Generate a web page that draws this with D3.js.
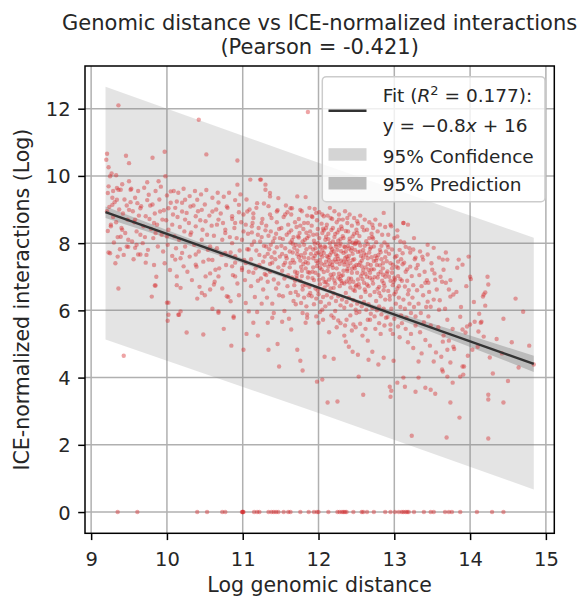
<!DOCTYPE html>
<html>
<head>
<meta charset="utf-8">
<script src="https://cdn.jsdelivr.net/npm/d3@7"></script>
<style>
  body { margin: 0; background: #fff; }
  svg text { font-family: "DejaVu Sans", sans-serif; fill: #262626; }
</style>
</head>
<body>
<div id="chart"></div>
<script>
// ---- data ----
const xTicks = [9, 10, 11, 12, 13, 14, 15];
const yTicks = [0, 2, 4, 6, 8, 10, 12];

// fit line end points
const fitX = [9.19, 14.84];
const fitY = [8.92, 4.41];

// 95% bands (wide = prediction-like, narrow = confidence-like)
const bandX = [9.19, 12.0, 14.84];
const bandLow = [5.13, 2.95, 0.67];
const bandHigh = [12.65, 10.39, 8.16];

const confX = [9.19, 10.0, 11.0, 12.0, 12.5, 13.0, 14.0, 14.84];
const confLow = [8.75, 8.15, 7.40, 6.62, 6.22, 5.79, 4.91, 4.17];
const confHigh = [9.09, 8.39, 7.54, 6.72, 6.33, 5.97, 5.25, 4.65];

// points with zero interactions
const zeroX = [9.35,9.61,10.40,10.53,10.73,10.77,11.0,11.0,11.01,10.99,11.15,11.19,11.22,11.34,11.38,11.41,11.44,11.47,11.54,11.6,11.63,11.76,11.87,11.94,12.0,11.98,12.13,12.25,12.28,12.31,12.33,12.35,12.37,12.46,12.57,12.59,12.64,12.73,12.88,12.95,13.01,13.06,13.1,13.12,13.15,13.17,13.19,13.26,13.39,13.48,13.52,13.67,13.72,13.76,13.87,14.09,14.29,14.44];

// scatter cloud [log distance, log interactions]
const points = [
[9.21,10.66],[9.2,10.48],[9.23,10.26],[9.27,10.07],[9.33,10.02],[9.46,10.6],[9.5,10.38],[9.36,12.1],[9.25,9.99],[9.23,9.69],[9.22,9.49],[9.34,9.64],[9.39,9.59],[9.5,9.84],[9.28,9.35],[9.31,9.22],[9.44,9.3],[9.47,9.12],[9.24,9.08],[9.37,9.0],[9.42,8.88],[9.29,8.78],[9.21,8.95],[9.48,8.7],[9.33,8.62],[9.26,8.5],[9.4,8.45],[9.45,8.3],[9.35,8.18],[9.22,8.36],[9.3,8.02],[9.49,8.1],[9.38,7.82],[9.43,7.65],[9.25,7.7],[9.36,6.65],[9.43,4.65],[9.32,7.4],[9.47,7.9],[9.41,9.75],[9.29,9.55],
[9.26,8.55],[9.39,8.19],[9.23,7.72],[9.35,7.6],[9.49,7.89],[9.58,7.86],[9.65,7.66],[9.72,7.42],[9.86,7.0],[9.84,6.74],[9.8,6.41],[10.0,6.23],[10.15,5.87],[9.62,7.66],
[9.81,10.54],[9.97,10.72],[10.42,11.67],[10.52,10.64],[10.93,10.46],[11.86,11.9],[9.85,6.74],[10.02,6.23],[10.01,5.69],[10.16,5.87],[10.26,5.34],[10.48,5.28],[10.68,5.93],[10.88,5.78],
[10.02,5.87],[10.18,6.67],[10.13,7.01],[10.22,7.31],[10.38,7.36],[10.51,7.01],[10.57,6.62],[10.62,6.77],[10.46,6.52],[10.18,5.97],[10.68,7.01],[10.79,6.42],[10.84,6.27],[10.9,7.01],[10.99,7.26],[11.08,5.97],[11.04,6.22],[10.88,5.82],[10.68,5.97],
[10.93,9.74],[9.36,9.59],[9.52,9.59],[9.74,9.81],[9.89,9.84],[9.98,9.99],[10.05,9.54],[10.13,9.24],[10.24,9.29],[10.4,9.29],[10.68,9.21],[10.95,9.14],[9.61,9.19],[9.76,9.44],[9.65,9.04],[9.5,8.99],[9.91,8.94],[10.02,9.04],[10.2,8.94],[10.31,9.09],[10.46,8.99],[10.6,8.94],[10.79,9.09],[10.86,8.8],[11.06,8.94],
[9.58,8.7],[9.72,8.8],[9.83,8.6],[9.94,8.7],[10.07,8.55],[10.24,8.7],[10.38,8.5],[10.51,8.65],[10.66,8.55],[10.77,8.4],[10.9,8.6],[11.01,8.35],[11.12,8.5],[9.85,8.3],[10.0,8.2],[10.16,8.1],[10.31,8.25],[10.46,8.1],[10.57,7.9],[10.73,8.1],[10.86,8.0],[10.99,8.1],[11.08,7.81],[10.77,7.71],[10.9,7.61],[10.55,7.51],[10.38,7.66],[10.2,7.71],[11.04,7.41],[10.86,7.31],[10.64,7.21],[10.11,7.51],[9.41,8.4],[9.28,9.14],[9.34,9.29],
[9.52,9.22],[9.55,8.95],[9.57,8.62],[9.6,8.35],[9.63,8.82],[9.66,9.1],[9.69,8.5],[9.71,8.18],[9.74,9.28],[9.77,8.72],[9.79,8.42],[9.54,8.05],[9.6,7.95],[9.68,8.0],[9.75,7.8],[9.53,9.62],[9.62,9.55],[9.7,9.65],[9.78,9.12],[9.58,9.35],[9.65,8.25],[9.56,7.52],[9.73,7.65],
[9.81,9.15],[9.84,8.88],[9.87,8.55],[9.9,9.3],[9.93,8.25],[9.96,8.98],[9.99,8.68],[10.02,8.4],[10.05,9.2],[10.08,8.85],[9.82,8.15],[9.88,7.9],[9.95,7.75],[10.01,7.95],[10.07,7.62],[9.85,9.55],[9.92,9.68],[10.0,9.42],[10.09,9.55],[9.97,7.4],[10.04,7.2],[9.83,7.35],[10.1,8.2],
[10.11,9.05],[10.14,8.78],[10.17,8.48],[10.2,9.2],[10.23,8.35],[10.26,8.9],[10.29,8.6],[10.32,8.32],[10.35,9.12],[10.38,8.8],[10.12,7.85],[10.18,7.55],[10.24,7.9],[10.3,7.6],[10.36,7.95],[10.15,9.5],[10.22,9.62],[10.3,9.4],[10.37,9.55],[10.27,7.15],[10.33,6.9],[10.13,6.75],[10.39,7.3],
[10.41,8.95],[10.44,8.68],[10.47,8.4],[10.5,9.15],[10.53,8.25],[10.56,8.82],[10.59,8.52],[10.62,8.22],[10.65,9.0],[10.68,8.7],[10.42,7.75],[10.48,7.45],[10.54,7.8],[10.6,7.5],[10.66,7.85],[10.45,9.45],[10.52,9.58],[10.6,9.35],[10.67,9.5],[10.57,7.1],[10.63,6.85],[10.43,6.7],[10.69,7.25],[10.5,6.45],
[10.71,8.88],[10.74,8.6],[10.77,8.3],[10.8,9.05],[10.83,8.18],[10.86,8.72],[10.89,8.45],[10.92,8.15],[10.95,8.92],[10.98,8.62],[11.01,8.85],[11.04,8.55],[11.07,8.28],[11.09,9.0],[10.72,7.65],[10.78,7.35],[10.84,7.72],[10.9,7.42],[10.96,7.78],[11.02,7.5],[11.06,7.82],[10.75,9.38],[10.82,9.5],[10.9,9.28],[10.97,9.45],[11.05,9.3],[10.87,7.05],[10.93,6.8],[10.73,6.65],[10.99,7.2],[11.03,6.9],[11.08,7.15],[10.81,6.4],
[10.6,6.05],[10.95,6.45],[11.05,5.3],[10.75,5.45],[11.2,5.25],[10.4,6.35],[10.85,4.95],
[11.1,9.89],[11.24,9.89],[11.3,9.74],[11.3,9.59],[11.36,9.39],[11.47,9.34],[11.63,9.04],[11.72,9.39],[11.83,9.37],[11.97,8.9],
[11.23,9.89],[11.36,9.49],[11.19,9.19],[11.65,9.04],[11.76,8.99],[11.91,8.8],[12.05,8.85],[12.16,8.75],[12.27,8.7],[12.38,8.75],[12.51,8.65],[12.71,8.55],[12.86,8.9],[12.95,8.55],[13.12,8.6],[13.04,8.2],[11.45,8.94],[11.56,8.85],[11.36,8.85],[11.25,8.6],[11.14,8.75],
[11.12,8.32],[11.15,8.05],[11.18,7.78],[11.11,7.52],[11.22,7.35],[11.25,8.18],[11.28,7.92],[11.14,7.12],[11.2,6.88],[11.27,6.62],[11.16,6.4],[11.24,6.95],[11.29,7.6],[11.13,8.6],[11.21,8.45],[11.26,8.72],[11.18,9.05],[11.23,8.05],[11.3,8.38],[11.17,7.25],[11.29,7.08],[11.11,6.72],[11.25,6.2],[11.19,5.95],[11.28,9.18],[11.14,8.88],[11.22,7.65],[11.27,7.45],[11.12,7.95],[11.2,8.25],
[11.31,8.52],[11.34,8.22],[11.37,7.95],[11.33,7.68],[11.39,7.42],[11.42,8.15],[11.45,7.88],[11.48,8.42],[11.36,7.15],[11.41,6.92],[11.44,6.65],[11.47,7.28],[11.32,6.38],[11.38,8.75],[11.46,8.98],[11.49,7.6],[11.35,7.82],[11.4,8.05],[11.43,7.52],[11.31,7.05],[11.47,6.8],[11.39,6.2],[11.34,9.1],[11.45,8.62],[11.42,7.72],[11.37,8.35],[11.33,6.85],[11.48,6.45],[11.41,5.92],[11.36,7.38],[11.44,8.28],[11.31,7.9],[11.49,8.15],[11.38,7.58],
[11.14,5.63],[11.33,5.63],[11.39,5.78],[11.52,5.66],[11.01,4.83],[11.34,4.83],[11.48,4.33],[11.46,5.0],[11.72,4.83],[11.76,4.5],[11.79,4.21],[11.64,5.43],[11.83,5.63],[11.85,5.78],[12.0,5.63],
[11.51,8.45],[11.53,8.12],[11.56,7.85],[11.58,7.55],[11.61,8.32],[11.63,8.02],[11.66,7.72],[11.68,7.42],[11.52,7.18],[11.55,6.95],[11.59,6.72],[11.62,7.28],[11.65,6.98],[11.69,8.62],[11.54,8.78],[11.57,9.12],[11.6,8.55],[11.64,8.85],[11.67,8.18],[11.7,7.95],[11.52,7.68],[11.56,7.42],[11.6,7.05],[11.63,6.52],[11.67,6.28],[11.53,6.42],[11.58,8.25],[11.62,7.75],[11.66,7.5],[11.69,7.15],[11.55,5.98],[11.61,5.75],[11.68,6.75],[11.51,7.92],[11.57,7.62],[11.64,8.38],[11.7,6.55],[11.59,8.92],[11.54,7.35],[11.66,7.98],
[11.71,8.48],[11.73,8.2],[11.75,7.92],[11.77,7.64],[11.8,7.38],[11.82,8.1],[11.84,7.82],[11.87,7.55],[11.89,8.35],[11.72,7.12],[11.76,6.88],[11.79,6.62],[11.83,7.25],[11.86,6.98],[11.88,6.7],[11.74,8.72],[11.78,8.95],[11.81,8.6],[11.85,8.82],[11.88,9.05],[11.72,7.78],[11.76,7.48],[11.79,8.05],[11.82,7.7],[11.86,7.4],[11.89,7.88],[11.73,6.45],[11.77,6.22],[11.81,6.38],[11.84,6.12],[11.87,6.45],[11.75,8.3],[11.8,8.42],[11.85,8.15],[11.78,7.18],[11.83,6.75],[11.71,6.95],[11.88,7.12],[11.74,7.58],[11.81,7.95],[11.86,8.6],[11.79,5.92],
[11.91,8.52],[11.93,8.25],[11.95,7.98],[11.97,7.7],[11.99,7.42],[12.01,8.15],[12.03,7.88],[12.05,7.6],[12.07,8.38],[12.09,8.1],[11.92,7.15],[11.94,6.9],[11.96,6.65],[11.98,7.32],[12.0,7.05],[12.02,6.78],[12.04,7.22],[12.06,6.95],[12.08,6.68],[12.1,7.45],[11.92,8.78],[11.95,9.02],[11.98,8.68],[12.01,8.92],[12.04,8.58],[12.07,8.8],[12.1,8.45],[11.93,7.55],[11.96,7.85],[11.99,8.0],[12.02,7.5],[12.05,7.78],[12.08,7.35],[11.91,6.42],[11.94,6.18],[11.97,6.35],[12.0,6.48],[12.03,6.25],[12.06,6.4],[12.09,6.12],[11.95,7.62],[12.0,7.72],[12.05,8.3],[11.93,7.28],[12.08,7.9],[12.02,5.95],[11.97,5.82],[12.06,5.72],[12.1,6.85],[11.99,8.42],
[11.98,3.88],[12.05,3.94],[12.08,4.62],[12.2,4.56],[12.12,3.26],[12.25,3.29],[12.36,5.07],[12.4,4.92],[12.45,4.77],[12.52,4.68],[12.53,4.03],[12.59,3.49],[12.66,4.53],[12.71,4.77],[12.79,4.39],[12.86,4.59],[12.94,3.73],[12.95,3.43],[12.96,3.61],[12.99,4.5],
[12.11,8.55],[12.13,8.28],[12.15,8.0],[12.17,7.72],[12.19,7.45],[12.21,8.18],[12.23,7.9],[12.25,7.62],[12.27,8.4],[12.29,8.12],[12.12,7.18],[12.14,6.92],[12.16,6.65],[12.18,7.35],[12.2,7.08],[12.22,6.8],[12.24,7.25],[12.26,6.98],[12.28,6.72],[12.3,7.48],[12.12,8.82],[12.15,9.05],[12.18,8.72],[12.21,8.95],[12.24,8.62],[12.27,8.85],[12.3,8.5],[12.13,7.58],[12.16,7.88],[12.19,8.05],[12.22,7.52],[12.25,7.8],[12.28,7.38],[12.11,6.45],[12.14,6.2],[12.17,6.38],[12.2,6.5],[12.23,6.28],[12.26,6.42],[12.29,6.15],[12.15,7.65],[12.2,7.75],[12.25,8.32],[12.13,7.3],[12.28,7.92],[12.22,5.98],[12.17,5.85],[12.26,5.7],[12.3,6.88],[12.19,8.45],[12.24,5.5],[12.14,5.35],[12.29,5.62],
[12.31,8.42],[12.33,8.15],[12.35,7.88],[12.37,7.6],[12.39,7.32],[12.41,8.05],[12.43,7.78],[12.45,7.5],[12.47,8.28],[12.49,8.0],[12.32,7.05],[12.34,6.8],[12.36,6.52],[12.38,7.22],[12.4,6.95],[12.42,6.68],[12.44,7.12],[12.46,6.85],[12.48,6.58],[12.5,7.35],[12.32,8.7],[12.35,8.95],[12.38,8.6],[12.41,8.85],[12.44,8.52],[12.47,8.75],[12.5,8.4],[12.33,7.45],[12.36,7.75],[12.39,7.92],[12.42,7.4],[12.45,7.68],[12.48,7.25],[12.31,6.32],[12.34,6.08],[12.37,6.25],[12.4,6.38],[12.43,6.15],[12.46,6.3],[12.49,6.02],[12.35,7.55],[12.4,7.62],[12.45,8.2],[12.33,7.18],[12.48,7.8],[12.42,5.85],[12.37,5.72],[12.46,5.58],[12.5,6.75],[12.39,8.35],[12.44,5.4],[12.34,5.25],[12.49,5.5],
[12.51,8.3],[12.53,8.02],[12.55,7.75],[12.57,7.48],[12.59,7.2],[12.61,7.92],[12.63,7.65],[12.65,7.38],[12.67,8.15],[12.69,7.88],[12.52,6.92],[12.54,6.68],[12.56,6.4],[12.58,7.1],[12.6,6.82],[12.62,6.55],[12.64,7.0],[12.66,6.72],[12.68,6.45],[12.7,7.22],[12.52,8.58],[12.55,8.82],[12.58,8.48],[12.61,8.7],[12.64,8.4],[12.67,8.62],[12.7,8.28],[12.53,7.35],[12.56,7.62],[12.59,7.8],[12.62,7.28],[12.65,7.55],[12.68,7.12],[12.51,6.2],[12.54,5.95],[12.57,6.12],[12.6,6.25],[12.63,6.02],[12.66,6.18],[12.69,5.9],[12.55,5.6],[12.62,5.45],[12.68,5.72],[12.58,5.25],[12.65,5.1],
[12.71,8.18],[12.73,7.9],[12.75,7.62],[12.77,7.35],[12.79,7.08],[12.81,7.8],[12.83,7.52],[12.85,7.25],[12.87,8.02],[12.89,7.75],[12.72,6.8],[12.74,6.55],[12.76,6.28],[12.78,6.98],[12.8,6.7],[12.82,6.42],[12.84,6.88],[12.86,6.6],[12.88,6.32],[12.9,7.1],[12.72,8.45],[12.75,8.7],[12.78,8.35],[12.81,8.55],[12.84,8.25],[12.88,8.48],[12.73,7.22],[12.76,7.48],[12.79,7.65],[12.82,7.15],[12.85,7.4],[12.88,7.0],[12.71,6.08],[12.74,5.82],[12.77,6.0],[12.8,6.12],[12.83,5.88],[12.86,6.05],[12.89,5.78],[12.75,5.45],[12.82,5.3],[12.87,5.55],
[12.91,7.95],[12.93,7.68],[12.95,7.4],[12.97,7.12],[12.99,6.85],[13.01,7.58],[13.03,7.3],[13.05,7.02],[13.07,7.8],[13.09,7.52],[12.92,6.58],[12.94,6.32],[12.96,6.05],[12.98,6.75],[13.0,6.48],[13.02,6.2],[13.04,6.65],[13.06,6.38],[13.08,6.1],[13.1,6.88],[12.92,8.25],[12.96,8.5],[13.0,8.15],[13.04,8.38],[13.08,8.05],[12.93,7.0],[12.97,7.25],[13.01,6.92],[13.05,7.45],[12.91,5.8],[12.95,5.58],[13.0,5.75],[13.05,5.52],[13.09,5.85],[12.98,5.3],[13.07,5.2],
[13.04,3.85],[13.12,4.0],[13.14,3.73],[13.23,2.27],[13.28,3.58],[13.32,4.0],[13.41,3.7],[13.48,3.64],[13.54,3.52],[13.32,4.48],[13.52,4.48],[13.63,4.24],[13.7,4.03],[13.74,3.26],[13.86,2.81],[13.77,3.85],[13.69,2.22],[13.87,4.03],[13.92,4.33],
[13.11,7.7],[13.13,7.42],[13.15,7.15],[13.17,6.88],[13.19,6.6],[13.21,7.3],[13.23,7.02],[13.25,6.75],[13.27,7.52],[13.29,7.25],[13.12,6.32],[13.14,6.05],[13.16,5.78],[13.18,6.48],[13.2,6.2],[13.22,5.92],[13.24,6.38],[13.26,6.1],[13.28,5.82],[13.3,6.6],[13.13,8.02],[13.2,7.85],[13.26,8.15],[13.15,5.45],[13.22,5.3],[13.28,5.55],[13.18,5.05],[13.25,4.88],
[13.18,8.55],[13.12,8.6],[13.15,7.89],[13.21,7.72],[13.25,7.81],[13.28,7.57],[13.34,7.75],[13.38,7.51],[13.44,7.66],[13.52,7.86],[13.59,7.57],[13.64,7.51],[13.68,7.72],[13.7,7.51],[13.85,7.51],[13.83,7.27],[13.9,7.36],[13.98,7.6],[14.0,7.0],[14.01,6.93],[14.23,7.0],[14.17,6.41],[14.2,6.14],
[13.68,6.82],[13.72,6.62],[13.74,6.41],[13.78,6.47],[13.65,7.21],[13.61,7.0],[13.54,6.91],[13.5,7.21],[13.45,6.82],[13.41,6.82],[13.52,6.32],[13.48,6.11],[13.59,6.02],[13.44,6.26],[13.87,5.81],[13.96,5.52],[14.0,5.58],[13.9,5.43],[13.94,5.34],[14.14,5.63],[14.11,5.37],[14.1,4.92],[14.03,4.83],[13.7,4.83],[13.78,4.92],[13.64,5.07],[13.64,4.18],[13.74,4.45],[13.9,4.33],[13.91,4.09],
[13.31,7.35],[13.33,7.05],[13.36,6.72],[13.38,6.45],[13.4,7.15],[13.43,6.9],[13.46,6.55],[13.49,7.4],[13.32,6.2],[13.35,5.92],[13.39,5.65],[13.42,6.1],[13.45,5.82],[13.48,5.55],[13.34,5.35],[13.41,5.12],[13.47,4.95],[13.37,7.6],[13.44,7.95],[13.36,4.72],
[13.53,7.1],[13.56,6.62],[13.6,6.3],[13.63,6.85],[13.67,6.05],[13.7,5.72],[13.74,6.9],[13.58,5.5],[13.65,5.25],[13.72,5.1],[13.55,4.75],[13.77,5.45],[13.62,4.62],[13.79,4.85],
[13.82,6.55],[13.88,6.1],[13.95,6.72],[14.05,6.25],[14.12,5.9],[13.97,4.65],[14.18,5.22],[14.26,4.6],
[14.24,3.49],[14.24,3.35],[14.44,3.26],[14.24,2.19],[14.3,4.12],[14.64,4.3],[14.84,4.39],[14.7,5.96],[14.44,5.75],[14.18,6.47],[14.2,6.53],[14.24,6.77],[14.06,5.66],[14.15,5.66],
[14.35,5.15],[14.42,4.72],[14.55,5.05],[14.6,6.35],[14.78,4.95],[14.5,3.9],
[11.63,7.41],[11.68,7.86],[11.71,7.03],[11.74,8.17],[11.77,7.29],[11.79,6.73],[11.81,7.57],[11.84,8.31],[11.86,7.14],[11.9,7.68],[11.92,6.96],[11.94,8.07],[11.97,7.47],[11.99,6.59],[12.02,7.93],[12.04,7.39],[12.06,8.43],[12.08,6.84],[12.11,7.61],[12.13,8.12],[12.16,7.06],[12.18,7.82],[12.2,6.67],[12.22,8.27],[12.24,7.44],[12.27,7.09],[12.29,7.99],[12.31,6.81],[12.33,7.71],[12.36,8.36],[12.38,7.17],[12.4,7.84],[12.43,6.94],[12.45,8.01],[12.47,7.31],[12.49,6.71],[12.52,7.74],[12.54,8.21],[12.56,7.02],[12.59,7.57],[12.61,6.62],[12.63,8.06],[12.66,7.21],[12.68,7.83],[12.71,6.91],[12.73,7.47],[12.76,8.03],[12.78,6.64],[12.81,7.34],[12.83,7.92],[12.86,6.81],[12.88,7.58],[12.91,7.16],[12.94,6.43],[12.97,7.81],[13.0,6.97],[13.03,7.62],[13.06,6.72],
[11.65,8.09],[11.69,6.88],[11.72,7.67],[11.76,8.52],[11.78,7.02],[11.83,7.44],[11.87,8.21],[11.89,6.52],[11.93,7.81],[11.96,7.12],[11.98,8.26],[12.01,6.91],[12.03,7.66],[12.07,7.14],[12.09,7.87],[12.12,6.76],[12.14,7.49],[12.17,8.39],[12.19,7.27],[12.21,6.89],[12.23,7.66],[12.26,8.07],[12.28,6.93],[12.3,7.76],[12.32,8.21],[12.34,7.36],[12.37,6.86],[12.39,7.52],[12.41,8.13],[12.44,7.24],[12.46,6.61],[12.48,7.97],[12.51,7.12],[12.53,6.78],[12.55,7.93],[12.57,7.31],[12.6,8.38],[12.62,7.09],[12.64,6.77],[12.67,7.72],[12.69,7.35],[12.72,8.14],[12.74,6.99],[12.77,7.56],[12.8,6.52],[12.82,7.73],[12.85,7.06],[12.87,6.72],[12.9,7.46],[12.92,7.88],[12.95,6.88],[12.98,7.36],[13.02,6.55],[13.05,7.26],[13.08,6.93],[13.11,7.37],[13.14,6.71],[13.17,7.22],
[12.02,7.27],[12.07,7.71],[12.1,8.19],[12.15,7.38],[12.18,6.98],[12.23,7.97],[12.26,7.53],[12.3,7.02],[12.34,7.9],[12.37,7.44],[12.41,6.83],[12.44,7.86],[12.47,7.52],[12.5,8.06],[12.55,7.42],[12.58,6.93],[12.6,7.69],[12.65,7.97],[12.68,6.97],[12.7,7.58],
[11.7,6.18],[11.85,5.88],[12.05,6.02],[12.2,5.78],[12.35,5.55],[12.5,5.92],[12.65,5.72],[12.8,5.62],[12.95,5.42],[13.1,5.62]
];

// ---- layout ----
const width = 579, height = 599;
const plotLeft = 85, plotRight = 554.3, plotTop = 66, plotBottom = 533.3;

const svg = d3.select("#chart")
  .append("svg")
  .attr("width", width)
  .attr("height", height);

const x = d3.scaleLinear().domain([8.919, 15.111]).range([plotLeft, plotRight]);
const y = d3.scaleLinear().domain([-0.632, 13.27]).range([plotBottom, plotTop]);

// grid
svg.append("g")
  .selectAll("line")
  .data(xTicks)
  .join("line")
  .attr("x1", d => x(d)).attr("x2", d => x(d))
  .attr("y1", plotTop).attr("y2", plotBottom)
  .attr("stroke", "#b0b0b0")
  .attr("stroke-width", 1.5);

svg.append("g")
  .selectAll("line")
  .data(yTicks)
  .join("line")
  .attr("x1", plotLeft).attr("x2", plotRight)
  .attr("y1", d => y(d)).attr("y2", d => y(d))
  .attr("stroke", "#b0b0b0")
  .attr("stroke-width", 1.5);

// bands
const band = d3.area()
  .x(d => x(d[0]))
  .y0(d => y(d[1]))
  .y1(d => y(d[2]));

svg.append("path")
  .datum(bandX.map((v, i) => [v, bandLow[i], bandHigh[i]]))
  .attr("d", band)
  .attr("fill", "#808080")
  .attr("fill-opacity", 0.21);

svg.append("path")
  .datum(confX.map((v, i) => [v, confLow[i], confHigh[i]]))
  .attr("d", band)
  .attr("fill", "#808080")
  .attr("fill-opacity", 0.4);

// scatter
svg.append("g")
  .selectAll("circle")
  .data(points.concat(zeroX.map(v => [v, 0])))
  .join("circle")
  .attr("cx", d => x(d[0]))
  .attr("cy", d => y(d[1]))
  .attr("r", 2.2)
  .attr("fill", "#d62728")
  .attr("fill-opacity", 0.42);

// fit line
svg.append("path")
  .datum(fitX.map((v, i) => [v, fitY[i]]))
  .attr("d", d3.line().x(d => x(d[0])).y(d => y(d[1])))
  .attr("stroke", "#333")
  .attr("stroke-width", 2.4)
  .attr("fill", "none");

// axes
const xAxis = svg.append("g")
  .attr("transform", `translate(0,${plotBottom})`)
  .call(d3.axisBottom(x).tickValues(xTicks).tickSize(6.8).tickSizeOuter(0).tickFormat(d3.format("d")));
xAxis.select(".domain").remove();
xAxis.selectAll("line").attr("stroke", "#000").attr("stroke-width", 1.5);
xAxis.selectAll("text")
  .attr("y", 32.7).attr("dy", null)
  .style("font-size", "19.5px")
  .style("font-family", "DejaVu Sans")
  .attr("fill", "#262626");

const yAxis = svg.append("g")
  .attr("transform", `translate(${plotLeft},0)`)
  .call(d3.axisLeft(y).tickValues(yTicks).tickSize(6.8).tickPadding(7.6).tickSizeOuter(0).tickFormat(d3.format("d")));
yAxis.select(".domain").remove();
yAxis.selectAll("line").attr("stroke", "#000").attr("stroke-width", 1.5);
yAxis.selectAll("text")
  .attr("dy", "0.36em")
  .style("font-size", "19.5px")
  .style("font-family", "DejaVu Sans")
  .attr("fill", "#262626");

// frame
svg.append("rect")
  .attr("x", plotLeft).attr("y", plotTop)
  .attr("width", plotRight - plotLeft).attr("height", plotBottom - plotTop)
  .attr("fill", "none")
  .attr("stroke", "#000")
  .attr("stroke-width", 1.5);

// title and labels
const cx = (plotLeft + plotRight) / 2;
svg.append("text").attr("x", cx).attr("y", 29.5)
  .attr("text-anchor", "middle").style("font-size", "21px")
  .text("Genomic distance vs ICE-normalized interactions");
svg.append("text").attr("x", cx).attr("y", 53.5)
  .attr("text-anchor", "middle").style("font-size", "21px")
  .text("(Pearson = -0.421)");

svg.append("text").attr("x", cx).attr("y", 592)
  .attr("text-anchor", "middle").style("font-size", "20.5px")
  .text("Log genomic distance");

svg.append("text")
  .attr("transform", `translate(29.2,${(plotTop + plotBottom) / 2}) rotate(-90)`)
  .attr("text-anchor", "middle").style("font-size", "20.5px")
  .text("ICE-normalized interactions (Log)");

// legend
const lg = svg.append("g");
lg.append("rect")
  .attr("x", 322.3).attr("y", 76.7)
  .attr("width", 222.7).attr("height", 125)
  .attr("rx", 4)
  .attr("fill", "#fff").attr("fill-opacity", 0.8)
  .attr("stroke", "#cccccc").attr("stroke-width", 1.5);

lg.append("line")
  .attr("x1", 328.5).attr("x2", 366.5)
  .attr("y1", 110.7).attr("y2", 110.7)
  .attr("stroke", "#333").attr("stroke-width", 2.4);
lg.append("rect").attr("x", 328.5).attr("y", 148.2).attr("width", 38).attr("height", 12.5).attr("fill", "#d4d4d4");
lg.append("rect").attr("x", 328.5).attr("y", 177).attr("width", 38).attr("height", 12.5).attr("fill", "#bbbbbb");

const t1 = lg.append("text").attr("x", 382.7).attr("y", 102.3).style("font-size", "18.5px");
t1.append("tspan").text("Fit (");
t1.append("tspan").style("font-style", "italic").text("R");
t1.append("tspan").attr("dy", -7).style("font-size", "13px").text("2");
t1.append("tspan").attr("dy", 7).text(" = 0.177):");

const t2 = lg.append("text").attr("x", 382.7).attr("y", 131.7).style("font-size", "18.5px");
t2.append("tspan").text("y = \u22120.8");
t2.append("tspan").style("font-style", "italic").text("x");
t2.append("tspan").text(" + 16");

lg.append("text").attr("x", 382.7).attr("y", 162.5).style("font-size", "18.5px").text("95% Confidence");
lg.append("text").attr("x", 382.7).attr("y", 190.7).style("font-size", "18.5px").text("95% Prediction");
</script>
</body>
</html>
